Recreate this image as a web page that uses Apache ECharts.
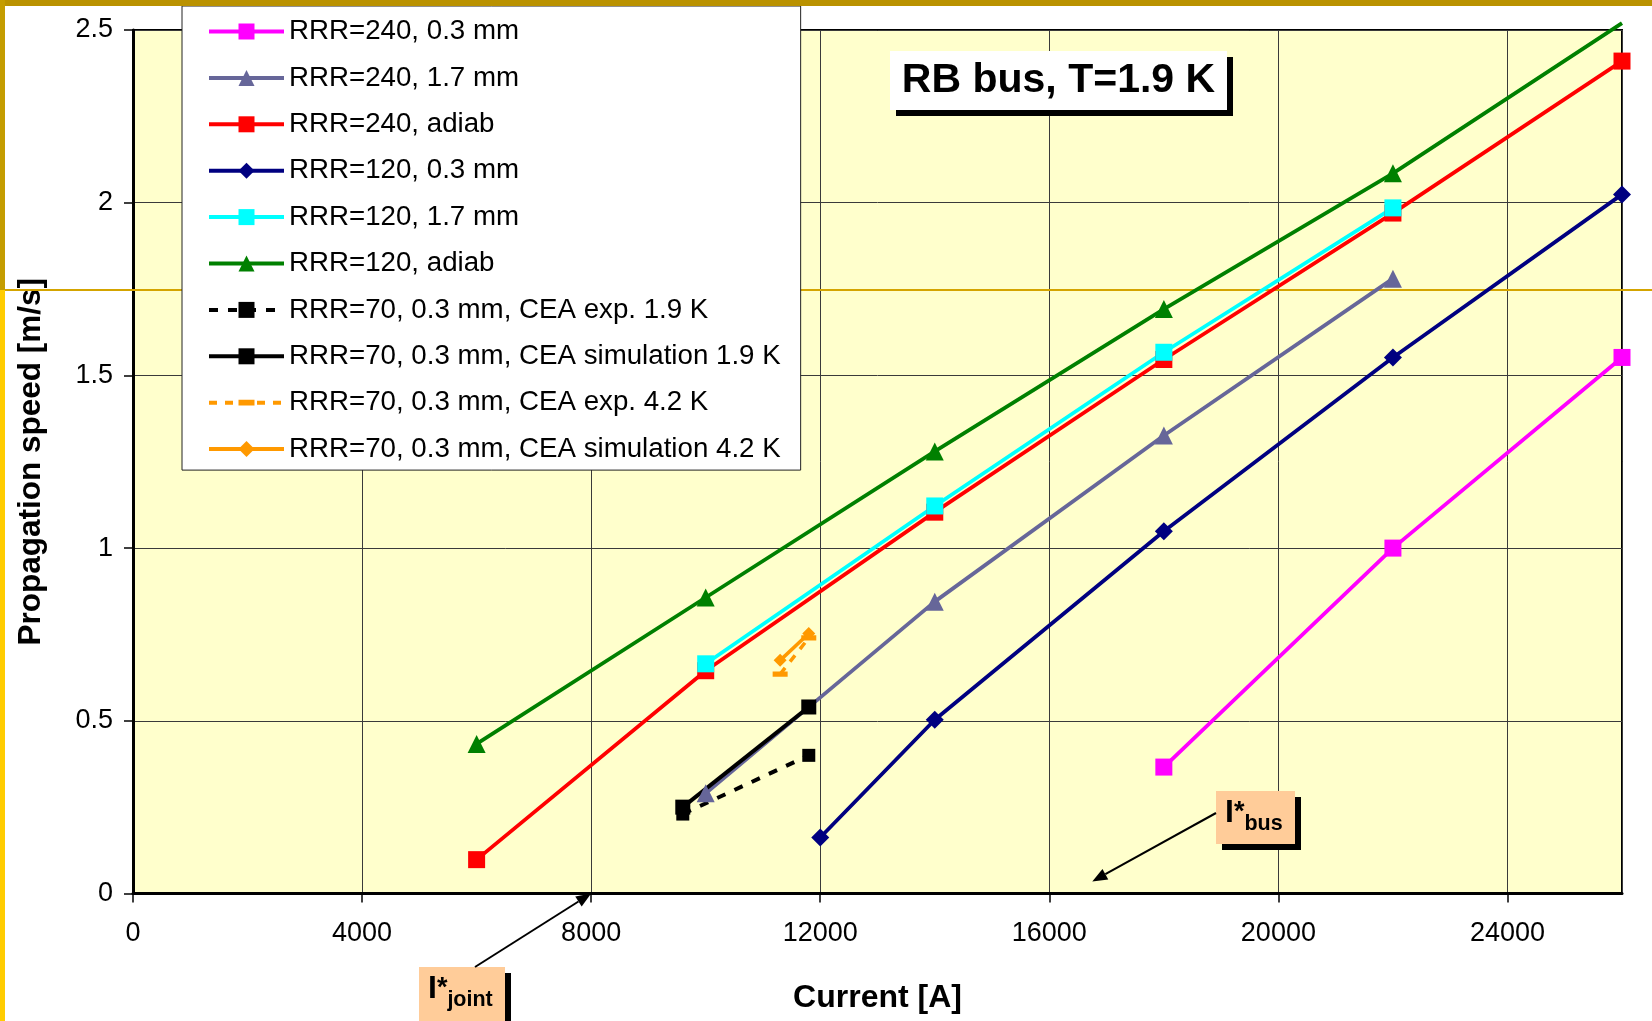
<!DOCTYPE html>
<html><head><meta charset="utf-8">
<script src="https://cdn.jsdelivr.net/npm/echarts@6/dist/echarts.min.js"></script>
<style>html,body{margin:0;padding:0;background:#fff}#c{width:1652px;height:1021px}</style>
</head><body><div id="c"></div>
<script>
// ---- data ----
const seriesNames = [
  'RRR=240, 0.3 mm', 'RRR=240, 1.7 mm', 'RRR=240, adiab',
  'RRR=120, 0.3 mm', 'RRR=120, 1.7 mm', 'RRR=120, adiab',
  'RRR=70, 0.3 mm, CEA exp. 1.9 K', 'RRR=70, 0.3 mm, CEA simulation 1.9 K',
  'RRR=70, 0.3 mm, CEA exp. 4.2 K', 'RRR=70, 0.3 mm, CEA simulation 4.2 K'
];
const rrr240_03mm  = [[18000,0.366],[22000,1.0],[26000,1.552]];
const rrr240_17mm  = [[10000,0.29],[14000,0.845],[18000,1.326],[22000,1.78]];
const rrr240_adiab = [[6000,0.098],[10000,0.645],[14000,1.104],[18000,1.546],[22000,1.97],[26000,2.41]];
const rrr120_03mm  = [[12000,0.162],[14000,0.503],[18000,1.049],[22000,1.552],[26000,2.024]];
const rrr120_17mm  = [[10000,0.665],[14000,1.122],[18000,1.567],[22000,1.985]];
const rrr120_adiab = [[6000,0.433],[10000,0.857],[14000,1.28],[18000,1.692],[22000,2.085],[26000,2.52]];
const ceaExp19 = [[9600,0.23],[11800,0.40]];
const ceaSim19 = [[9600,0.25],[11800,0.54]];
const ceaExp42 = [[11300,0.635],[11800,0.74]];
const ceaSim42 = [[11300,0.675],[11800,0.753]];
const xMin = 0, xMax = 26000, xInterval = 4000;
const yMin = 0, yMax = 2.5, yInterval = 0.5;
const titleText = 'RB bus, T=1.9 K';
const xName = 'Current [A]';
const yName = 'Propagation speed [m/s]';
const jointTip = [8000, 0];
const busTip = [16750, 0.035];

// ---- chart ----
const FF = '"Liberation Sans", Arial, Helvetica, sans-serif';
const chart = echarts.init(document.getElementById('c'), null, {renderer: 'canvas'});

function prep(arr) {
  return arr.map(v => v[1] > yMax ? {value: v, symbolSize: 0} : v);
}
function mk(name, data, color, symbol, size, lineType, width) {
  return {
    name, type: 'line', data: prep(data), symbol, symbolSize: size,
    symbolKeepAspect: true, clip: false,
    lineStyle: {color, width: width || 3.8, type: lineType || 'solid'},
    itemStyle: {color, borderWidth: 0},
    emphasis: {disabled: true}
  };
}
// horizontal dash marker inside a square bounding box (invisible degenerate corners)
const dashSym = 'path://M0,4.5L14,4.5L14,9.5L0,9.5ZM0,0L0.01,0ZM13.99,14L14,14Z';

const option = {
  animation: false,
  backgroundColor: '#fff',
  grid: {left: 133, right: 30, top: 30, bottom: 127.5, show: true,
         backgroundColor: '#FFFFCC', borderColor: '#000', borderWidth: 2},
  xAxis: {
    type: 'value', min: xMin, max: xMax, interval: xInterval,
    name: xName, nameLocation: 'middle', nameGap: 89,
    nameTextStyle: {fontFamily: FF, fontSize: 32, fontWeight: 'bold', color: '#000'},
    axisLine: {show: true, lineStyle: {color: '#000', width: 3}},
    axisTick: {show: true, length: 9, lineStyle: {color: '#000', width: 1.5}},
    axisLabel: {fontFamily: FF, fontSize: 27, color: '#000', margin: 27, showMaxLabel: false,
                formatter: v => String(v)},
    splitLine: {show: true, lineStyle: {color: '#3a3a3a', width: 1}}
  },
  yAxis: {
    type: 'value', min: yMin, max: yMax, interval: yInterval,
    name: yName, nameLocation: 'middle', nameGap: 86, nameRotate: 90,
    nameTextStyle: {fontFamily: FF, fontSize: 31.5, fontWeight: 'bold', color: '#000'},
    axisLine: {show: true, lineStyle: {color: '#000', width: 3}},
    axisTick: {show: true, length: 9, lineStyle: {color: '#000', width: 1.5}},
    axisLabel: {fontFamily: FF, fontSize: 27, color: '#000', margin: 20,
                formatter: v => String(v)},
    splitLine: {show: true, lineStyle: {color: '#3a3a3a', width: 1}}
  },
  legend: {
    orient: 'vertical', left: 182, top: 6,
    padding: [10.5, 20, 6, 25],
    itemWidth: 75, itemHeight: 20, itemGap: 16.4, itemTextGap: 7,
    backgroundColor: '#fff', borderColor: '#222', borderWidth: 1,
    lineStyle: {width: 4},
    textStyle: {fontFamily: FF, fontSize: 27.7, color: '#000', lineHeight: 30},
    data: seriesNames,
    selectedMode: false
  },
  series: [
    mk(seriesNames[0], rrr240_03mm, '#FF00FF', 'rect', 17),
    mk(seriesNames[1], rrr240_17mm, '#666699', 'triangle', 18),
    mk(seriesNames[2], rrr240_adiab, '#FF0000', 'rect', 17),
    mk(seriesNames[3], rrr120_03mm, '#000080', 'diamond', 18),
    mk(seriesNames[4], rrr120_17mm, '#00FFFF', 'rect', 17),
    mk(seriesNames[5], rrr120_adiab, '#008000', 'triangle', 18),
    mk(seriesNames[6], ceaExp19, '#000000', 'rect', 13, [9, 10], 4),
    mk(seriesNames[7], ceaSim19, '#000000', 'rect', 15, 'solid', 4),
    mk(seriesNames[8], ceaExp42, '#FF9900', dashSym, 15, [8, 8], 3.5),
    mk(seriesNames[9], ceaSim42, '#FF9900', 'diamond', 13, 'solid', 3.5)
  ]
};
chart.setOption(option);

// ---- annotations ----
function arrow(start, tip, head, w) {
  const dx = tip[0] - start[0], dy = tip[1] - start[1];
  const L = Math.hypot(dx, dy), ux = dx / L, uy = dy / L;
  const bx = tip[0] - ux * head, by = tip[1] - uy * head;
  const px = -uy * w / 2, py = ux * w / 2;
  return [
    {type: 'line', z: 10, shape: {x1: start[0], y1: start[1], x2: bx, y2: by},
     style: {stroke: '#000', lineWidth: 2}},
    {type: 'polygon', z: 10, shape: {points: [tip, [bx + px, by + py], [bx - px, by - py]]},
     style: {fill: '#000'}}
  ];
}
function labelBox(x, y, w, h, sub) {
  return [
    {type: 'rect', z: 9, shape: {x: x + 6, y: y + 6, width: w, height: h}, style: {fill: '#000'}},
    {type: 'rect', z: 9, shape: {x, y, width: w, height: h}, style: {fill: '#FFCC99'}},
    {type: 'text', z: 10, x: x + 9, y: y + 22, style: {
      text: '{i|I}{s|*}{b|' + sub + '}', align: 'left', verticalAlign: 'middle',
      rich: {
        i: {fontFamily: FF, fontSize: 32, fontWeight: 'bold', fill: '#000', lineHeight: 44, verticalAlign: 'middle'},
        s: {fontFamily: FF, fontSize: 27, fontWeight: 'bold', fill: '#000', verticalAlign: 'middle'},
        b: {fontFamily: FF, fontSize: 21.5, fontWeight: 'bold', fill: '#000', lineHeight: 24, verticalAlign: 'bottom'}
      }
    }}
  ];
}
const tipJ = chart.convertToPixel({gridIndex: 0}, jointTip);
const tipB = chart.convertToPixel({gridIndex: 0}, busTip);
const graphics = [
  {type: 'rect', z: 1, shape: {x: 0, y: 289, width: 1652, height: 2}, style: {fill: '#D4A400'}},
  {type: 'rect', z: 20, shape: {x: 0, y: 0, width: 1652, height: 6}, style: {fill: '#BA9200'}},
  {type: 'rect', z: 20, shape: {x: 0, y: 0, width: 5, height: 290}, style: {fill: '#C49C00'}},
  {type: 'rect', z: 20, shape: {x: 0, y: 290, width: 5, height: 731}, style: {fill: '#FFCC00'}},
  // title box
  {type: 'rect', z: 9, shape: {x: 896, y: 57, width: 337, height: 59}, style: {fill: '#000'}},
  {type: 'rect', z: 9, shape: {x: 890, y: 51, width: 337, height: 59}, style: {fill: '#fff'}},
  {type: 'text', z: 10, x: 1058.5, y: 81, style: {text: titleText, fontFamily: FF, fontSize: 41,
    fontWeight: 'bold', fill: '#000', align: 'center', verticalAlign: 'middle'}},
  ...labelBox(1216, 791, 79, 53, 'bus'),
  ...labelBox(419, 967, 86, 60, 'joint'),
  ...arrow([1216, 813], tipB, 15, 12),
  ...arrow([475, 967], tipJ, 15, 12)
];
chart.setOption({graphic: graphics});
</script>
</body></html>
